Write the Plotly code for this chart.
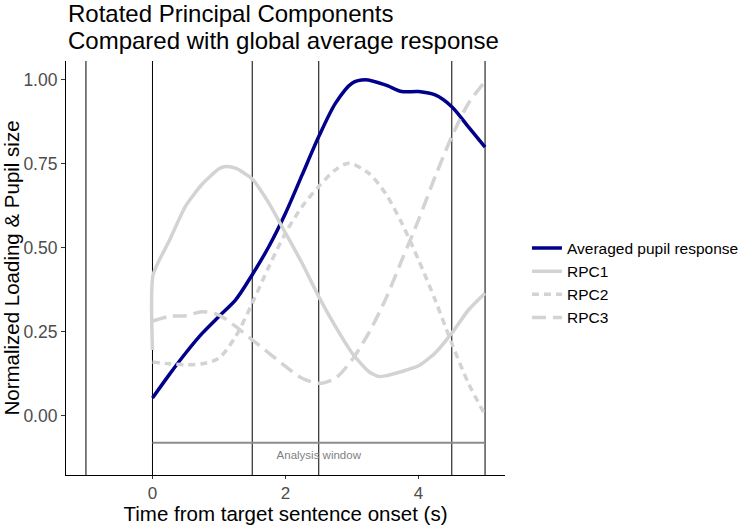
import plotly.graph_objects as go

time_x = [0, 0.25, 0.5, 0.75, 1.0, 1.25, 1.5, 1.75, 2.0, 2.25, 2.5, 2.75, 3.0, 3.2, 3.5, 3.75, 4.0, 4.25, 4.5, 4.75, 5.0]
pupil = [0.053, 0.122, 0.187, 0.246, 0.296, 0.345, 0.42, 0.504, 0.603, 0.717, 0.831, 0.93, 0.99, 1.0, 0.985, 0.965, 0.965, 0.955, 0.92, 0.86, 0.80]

rpc1_x = [0, 0.01, 0.25, 0.5, 0.75, 1.0, 1.1, 1.25, 1.5, 1.75, 2.0, 2.25, 2.5, 2.75, 3.0, 3.25, 3.4, 3.5, 3.75, 4.0, 4.25, 4.5, 4.75, 5.0]
rpc1 = [0.196, 0.42, 0.52, 0.625, 0.69, 0.735, 0.742, 0.737, 0.705, 0.633, 0.544, 0.454, 0.355, 0.266, 0.187, 0.132, 0.117, 0.119, 0.132, 0.149, 0.187, 0.246, 0.315, 0.365]

rpc2_x = [0, 0.25, 0.5, 0.75, 1.0, 1.25, 1.5, 1.75, 2.0, 2.25, 2.5, 2.75, 2.95, 3.25, 3.5, 3.75, 4.0, 4.25, 4.5, 4.75, 5.0]
rpc2 = [0.16, 0.155, 0.152, 0.155, 0.172, 0.236, 0.335, 0.444, 0.544, 0.623, 0.683, 0.732, 0.752, 0.722, 0.663, 0.573, 0.464, 0.345, 0.216, 0.097, 0.003]

rpc3_x = [0, 0.25, 0.5, 0.75, 1.0, 1.25, 1.5, 1.75, 2.0, 2.25, 2.5, 2.75, 3.0, 3.25, 3.5, 3.75, 4.0, 4.25, 4.5, 4.75, 5.0]
rpc3 = [0.282, 0.296, 0.298, 0.31, 0.30, 0.266, 0.226, 0.187, 0.147, 0.112, 0.097, 0.112, 0.167, 0.246, 0.345, 0.464, 0.583, 0.712, 0.831, 0.93, 0.995]

event_lines = [-1, 0, 1.5, 2.5, 4.5, 5]
window_start, window_end, window_y = 0, 5, -0.08
window_label = "Analysis window"
label_y = -0.12

title_lines = ["Rotated Principal Components", "Compared with global average response"]

FONT = "Liberation Sans, Arial, sans-serif"
GRAY = "#d3d3d3"

fig = go.Figure()

for x in event_lines:
    fig.add_shape(type="line", xref="x", yref="paper", x0=x, x1=x, y0=0, y1=1,
                  line=dict(color="black", width=1), layer="below")

fig.add_trace(go.Scatter(x=[window_start, window_end], y=[window_y, window_y], mode="lines",
                         line=dict(color="#8c8c8c", width=2.2), showlegend=False, hoverinfo="skip"))
fig.add_trace(go.Scatter(x=[(window_start + window_end) / 2], y=[label_y], mode="text",
                         text=[window_label], textfont=dict(family=FONT, size=11.5, color="#7f7f7f"),
                         showlegend=False, hoverinfo="skip"))

fig.add_trace(go.Scatter(x=time_x, y=pupil, mode="lines", name="Averaged pupil response",
                         line=dict(color="#00008B", width=3.5, shape="spline", smoothing=0.8)))
fig.add_trace(go.Scatter(x=rpc1_x, y=rpc1, mode="lines", name="RPC1",
                         line=dict(color=GRAY, width=3.5, shape="spline", smoothing=0.6)))
fig.add_trace(go.Scatter(x=rpc2_x, y=rpc2, mode="lines", name="RPC2",
                         line=dict(color=GRAY, width=3.5, dash="7px,5px", shape="spline", smoothing=0.8)))
fig.add_trace(go.Scatter(x=rpc3_x, y=rpc3, mode="lines", name="RPC3",
                         line=dict(color=GRAY, width=3.5, dash="14px,7px", shape="spline", smoothing=0.8)))

for txt, yy in zip(title_lines, [1.115, 1.0495]):
    fig.add_annotation(text=txt, xref="paper", yref="paper", x=0, y=yy,
                       xanchor="left", yanchor="middle", showarrow=False,
                       font=dict(family=FONT, size=24, color="black"))

fig.update_layout(
    width=750, height=525,
    margin=dict(l=66, r=245, t=61, b=50, autoexpand=False),
    paper_bgcolor="white", plot_bgcolor="white",
    font=dict(family=FONT, color="black"),
    xaxis=dict(range=[-1.3, 5.3], tickvals=[0, 2, 4], ticktext=["0", "2", "4"], automargin=False,
               showgrid=False, zeroline=False, showline=True, linecolor="black", linewidth=1.1,
               ticks="outside", ticklen=3, tickcolor="#333333",
               tickfont=dict(family=FONT, size=17, color="#4d4d4d"),
               title=dict(text="Time from target sentence onset (s)", standoff=0,
                          font=dict(family=FONT, size=20.5, color="black"))),
    yaxis=dict(range=[-0.176, 1.056], tickvals=[0, 0.25, 0.5, 0.75, 1.0], automargin=False,
               ticktext=["0.00", "0.25", "0.50", "0.75", "1.00"],
               showgrid=False, zeroline=False, showline=True, linecolor="black", linewidth=1.1,
               ticks="outside", ticklen=4, tickcolor="#333333",
               tickfont=dict(family=FONT, size=17.5, color="#4d4d4d"),
               title=dict(text="Normalized Loading & Pupil size", standoff=2,
                          font=dict(family=FONT, size=20.5, color="black"))),
    legend=dict(x=1.05, xanchor="left", y=0.464, yanchor="middle",
                font=dict(family=FONT, size=15.5, color="black"),
                itemwidth=30, tracegroupgap=0, bgcolor="rgba(0,0,0,0)"),
)

fig.write_html("out.html", config={"displayModeBar": False},
               post_script="document.body.style.margin='0';")
